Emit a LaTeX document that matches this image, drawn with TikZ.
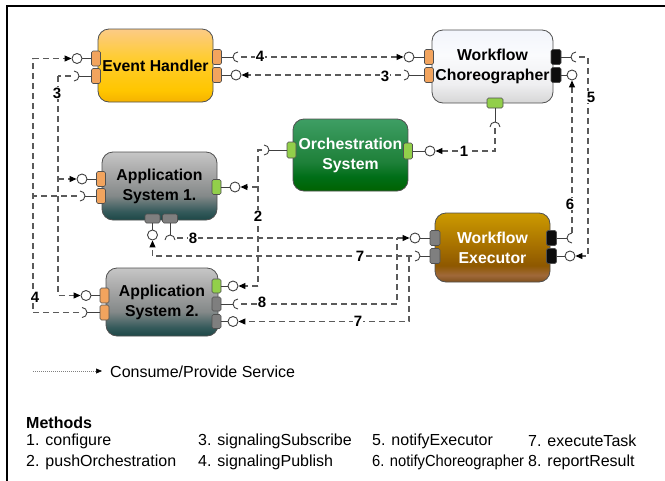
\documentclass[tikz,border=0pt]{standalone}
\usepackage{fontspec}
\setmainfont{Liberation Sans}
\usetikzlibrary{arrows.meta}
\definecolor{bordc}{HTML}{505050}
\definecolor{stubc}{HTML}{404040}
\definecolor{connc}{HTML}{5A5A5A}
\definecolor{porange}{HTML}{F2A45E}
\definecolor{pgreen}{HTML}{92CF4A}
\definecolor{pgray}{HTML}{7F7F7F}
\definecolor{pblack}{HTML}{0D0D0D}
% Event Handler
\definecolor{ehA}{HTML}{F5B200}\definecolor{ehB}{HTML}{FFC600}\definecolor{ehC}{HTML}{FFCC30}\definecolor{ehD}{HTML}{FCCB86}
\pgfdeclareverticalshading{ehgrad}{100bp}{color(0bp)=(ehA); color(25bp)=(ehA); color(33bp)=(ehB); color(55bp)=(ehC); color(75bp)=(ehD); color(100bp)=(ehD)}
% Workflow Choreographer
\definecolor{wcA}{HTML}{D6D6D6}\definecolor{wcB}{HTML}{EFEFF1}\definecolor{wcC}{HTML}{FAFBFD}\definecolor{wcD}{HTML}{F2F5FC}
\pgfdeclareverticalshading{wcgrad}{100bp}{color(0bp)=(wcA); color(25bp)=(wcA); color(38bp)=(wcB); color(58bp)=(wcC); color(75bp)=(wcD); color(100bp)=(wcD)}
% Orchestration
\definecolor{osA}{HTML}{006200}\definecolor{osB}{HTML}{006E18}\definecolor{osC}{HTML}{1E8039}\definecolor{osD}{HTML}{3E9E64}
\pgfdeclareverticalshading{osgrad}{100bp}{color(0bp)=(osA); color(25bp)=(osA); color(35bp)=(osB); color(45bp)=(osC); color(75bp)=(osD); color(100bp)=(osD)}
% Application systems
\definecolor{asA}{HTML}{1D4847}\definecolor{asB}{HTML}{33595A}\definecolor{asC}{HTML}{848989}\definecolor{asD}{HTML}{A4A4A4}\definecolor{asE}{HTML}{C6C6C6}
\pgfdeclareverticalshading{asgrad}{100bp}{color(0bp)=(asA); color(25bp)=(asA); color(31bp)=(asB); color(43bp)=(asC); color(58bp)=(asD); color(75bp)=(asE); color(100bp)=(asE)}
% Workflow Executor
\definecolor{weA}{HTML}{80501C}\definecolor{weB}{HTML}{A0693A}\definecolor{weC}{HTML}{8E5800}\definecolor{weD}{HTML}{A87200}\definecolor{weE}{HTML}{CC9A00}
\pgfdeclareverticalshading{wegrad}{100bp}{color(0bp)=(weA); color(25bp)=(weA); color(30bp)=(weB); color(37bp)=(weC); color(52bp)=(weD); color(75bp)=(weE); color(100bp)=(weE)}

\tikzset{
  mybox/.style={draw=bordc, line width=0.8pt, rounded corners=11pt, shade, align=center, inner sep=0pt,
    font=\bfseries\fontsize{15.8}{20}\selectfont},
  portv/.style={draw=bordc, line width=0.6pt, rounded corners=1.5pt, minimum width=9pt, minimum height=15pt, inner sep=0pt},
  porth/.style={draw=bordc, line width=0.6pt, rounded corners=1.5pt, minimum width=15pt, minimum height=9pt, inner sep=0pt},
  lolly/.style={circle, draw=stubc, fill=white, line width=0.9pt, minimum size=10pt, inner sep=0pt},
  stubln/.style={draw=stubc, line width=0.9pt},
  conn/.style={draw=connc, line width=1.1pt, dash pattern=on 6pt off 4pt},
  arr/.style={-{Triangle[length=7pt,width=6pt,color=black]}},
  lab/.style={fill=white, inner sep=1pt, font=\bfseries\fontsize{15}{18}\selectfont},
  legtxt/.style={anchor=west, inner sep=0pt, font=\fontsize{16}{19}\selectfont},
}
\newcommand\mysockL[1]{\draw[stubln] ([shift={(0,-5)}]#1) arc[start angle=-90,end angle=90,radius=5];}
\newcommand\mysockR[1]{\draw[stubln] ([shift={(0,-5)}]#1) arc[start angle=270,end angle=90,radius=5];}
\newcommand\mysockD[1]{\draw[stubln] ([shift={(-5,0)}]#1) arc[start angle=180,end angle=360,radius=5];}

\begin{document}
\begin{tikzpicture}[x=1pt,y=-1pt]
\useasboundingbox (0,0) rectangle (665,480);
\coordinate (fr0) at (7,481);
\coordinate (fr1) at (7,6);
\coordinate (fr2) at (666,6);
\draw[line width=1.3pt] (fr0) -- (fr1) -- (fr2);

% ---------- boxes ----------
\node[mybox, shading=ehgrad, minimum width=115pt, minimum height=73pt] (eh) at (155.5,65.5) {Event Handler};
\node[mybox, shading=wcgrad, minimum width=121pt, minimum height=73pt] (wc) at (492.5,66.5) {Workflow\\Choreographer};
\node[mybox, shading=osgrad, minimum width=115pt, minimum height=72pt, text=white] (os) at (350.5,155) {Orchestration\\System};
\node[mybox, shading=asgrad, minimum width=115pt, minimum height=68pt] (as1) at (159.5,186) {Application\\System 1.};
\node[mybox, shading=wegrad, minimum width=115pt, minimum height=69pt, text=white] (we) at (492.5,247.5) {Workflow\\Executor};
\node[mybox, shading=asgrad, minimum width=112pt, minimum height=68pt] (as2) at (162,302) {Application\\System 2.};

% ---------- ports ----------
\node[portv, fill=porange] (ehL1) at (96,58.5) {};
\node[portv, fill=porange] (ehL2) at (96,76) {};
\node[portv, fill=porange] (ehR1) at (217,57) {};
\node[portv, fill=porange] (ehR2) at (217,75) {};
\node[portv, fill=porange] (wcL1) at (429,57) {};
\node[portv, fill=porange] (wcL2) at (429,75) {};
\node[portv, fill=pblack, minimum width=10pt] (wcR1) at (556,57) {};
\node[portv, fill=pblack, minimum width=10pt] (wcR2) at (556,75) {};
\node[porth, fill=pgreen, minimum width=16pt, minimum height=10pt] (wcB) at (495,103) {};
\node[portv, fill=pgreen, minimum height=16pt] (osL) at (291.5,150) {};
\node[portv, fill=pgreen, minimum height=16pt] (osR) at (408,151) {};
\node[portv, fill=porange] (a1L1) at (101,179) {};
\node[portv, fill=porange] (a1L2) at (101,196) {};
\node[portv, fill=pgreen] (a1R) at (216.5,187) {};
\node[porth, fill=pgray] (a1B1) at (152.5,218.5) {};
\node[porth, fill=pgray] (a1B2) at (170,218.5) {};
\node[portv, fill=pgray, minimum width=10pt] (weL1) at (435,238) {};
\node[portv, fill=pgray, minimum width=10pt] (weL2) at (435,256) {};
\node[portv, fill=pblack, minimum width=10pt] (weR1) at (551.5,238) {};
\node[portv, fill=pblack, minimum width=10pt] (weR2) at (551.5,256) {};
\node[portv, fill=porange] (a2L1) at (104.5,295.5) {};
\node[portv, fill=porange] (a2L2) at (104.5,312.5) {};
\node[portv, fill=pgreen, minimum height=14pt] (a2R1) at (216.5,286) {};
\node[portv, fill=pgray, minimum height=14pt] (a2R2) at (216.5,304) {};
\node[portv, fill=pgray, minimum height=14pt] (a2R3) at (216.5,321.5) {};

% ---------- provided interfaces (lollipops) ----------
\node[lolly] (cEHL) at (77,58.5) {};   \draw[stubln] (ehL1.west) -- (cEHL);
\node[lolly] (cEHR) at (236,75) {};    \draw[stubln] (ehR2.east) -- (cEHR);
\node[lolly] (cWCL) at (409,57) {};    \draw[stubln] (wcL1.west) -- (cWCL);
\node[lolly] (cWCR) at (572,75) {};    \draw[stubln] (wcR2.east) -- (cWCR);
\node[lolly] (cOSR) at (430,151) {};   \draw[stubln] (osR.east) -- (cOSR);
\node[lolly] (cA1L) at (82,179) {};    \draw[stubln] (a1L1.west) -- (cA1L);
\node[lolly] (cA1R) at (235,187) {};   \draw[stubln] (a1R.east) -- (cA1R);
\node[lolly] (cA1B) at (152.5,235) {}; \draw[stubln] (a1B1.south) -- (cA1B);
\node[lolly] (cWEL) at (415,238) {};   \draw[stubln] (weL1.west) -- (cWEL);
\node[lolly] (cWER) at (570,256) {};   \draw[stubln] (weR2.east) -- (cWER);
\node[lolly] (cA2L) at (86,295.5) {};  \draw[stubln] (a2L1.west) -- (cA2L);
\node[lolly] (cA2R1) at (233,286) {};  \draw[stubln] (a2R1.east) -- (cA2R1);
\node[lolly] (cA2R3) at (233,321.5) {};\draw[stubln] (a2R3.east) -- (cA2R3);

% ---------- required interfaces (sockets) ----------
\coordinate (sEHL) at (74,76);    \coordinate (bEHL) at (79,76);
\coordinate (sEHR) at (238,57);   \coordinate (bEHR) at (233,57);
\coordinate (sWCL) at (404,75);   \coordinate (bWCL) at (409,75);
\coordinate (sWCR) at (576,57);   \coordinate (bWCR) at (571,57);
\coordinate (sWCB) at (495,127);  \coordinate (bWCB) at (495,122);
\coordinate (sOSL) at (264,150);  \coordinate (bOSL) at (269,150);
\coordinate (sA1L) at (80,196);   \coordinate (bA1L) at (85,196);
\coordinate (sA1B) at (170,240);  \coordinate (bA1B) at (170,235);
\coordinate (sWEL) at (415,256);  \coordinate (bWEL) at (420,256);
\coordinate (sWER) at (572,238);  \coordinate (bWER) at (567,238);
\coordinate (sA2L) at (82,312.5); \coordinate (bA2L) at (87,312.5);
\coordinate (sA2R) at (238,304);  \coordinate (bA2R) at (233,304);
\draw[stubln] (ehL2.west) -- (bEHL);  \mysockL{sEHL}
\draw[stubln] (ehR1.east) -- (bEHR);  \mysockR{sEHR}
\draw[stubln] (wcL2.west) -- (bWCL);  \mysockL{sWCL}
\draw[stubln] (wcR1.east) -- (bWCR);  \mysockR{sWCR}
\draw[stubln] (wcB.south) -- (bWCB);  \mysockD{sWCB}
\draw[stubln] (osL.west) -- (bOSL);   \mysockL{sOSL}
\draw[stubln] (a1L2.west) -- (bA1L);  \mysockL{sA1L}
\draw[stubln] (a1B2.south) -- (bA1B); \mysockD{sA1B}
\draw[stubln] (weL2.west) -- (bWEL);  \mysockL{sWEL}
\draw[stubln] (weR1.east) -- (bWER);  \mysockR{sWER}
\draw[stubln] (a2L2.west) -- (bA2L);  \mysockL{sA2L}
\draw[stubln] (a2R2.east) -- (bA2R);  \mysockR{sA2R}

% ---------- connector points ----------
\coordinate (d1) at (495,128);
\coordinate (d2) at (262,150);  \coordinate (j2a) at (258,150);
\coordinate (j2b) at (258,187); \coordinate (j2c) at (258,286);
\coordinate (d3) at (401,75);
\coordinate (d4) at (241,57);
\coordinate (d3L) at (71,76);   \coordinate (j3a) at (58,76); \coordinate (j3b) at (58,179);
\coordinate (d4La) at (77,196); \coordinate (j4a) at (33,196);
\coordinate (d4Lb) at (79,312.5); \coordinate (j4b) at (33,312.5); \coordinate (j4c) at (33,58.5);
\coordinate (d5) at (579,57);   \coordinate (j5a) at (588,57); \coordinate (j5b) at (588,256);
\coordinate (d6) at (572,233);
\coordinate (d7) at (412,256);  \coordinate (j7) at (409,256);
\coordinate (d8) at (177,238);
\coordinate (d8b) at (241,304); \coordinate (j8) at (397,238);

% ---------- connectors ----------
\draw[conn,arr] (d1) |- (cOSR);
\draw[conn] (d2) -- (j2a) -- (j2c);
\draw[conn,arr] (j2b) -- (cA1R);
\draw[conn,arr] (j2c) -- (cA2R1);
\draw[conn,arr] (d3) -- (cEHR);
\draw[conn,arr] (d4) -- (cWCL);
\draw[conn] (d3L) -- (j3a);
\draw[conn,arr] (j3a) |- (cA2L);
\draw[conn,arr] (j3b) -- (cA1L);
\draw[conn] (d4La) -- (j4a);
\draw[conn,arr] (d4Lb) -- (j4b) -- (j4c) -- (cEHL);
\draw[conn,arr] (d5) -- (j5a) -- (j5b) -- (cWER);
\draw[conn,arr] (d6) -- (cWCR);
\draw[conn,arr] (d7) -| (cA1B);
\draw[conn,arr] (j7) |- (cA2R3);
\draw[conn,arr] (d8) -- (cWEL);
\draw[conn] (d8b) -| (j8);

% ---------- labels ----------
\node[lab] (n1) at (464,151) {1};
\node[lab] (n2) at (258,216) {2};
\node[lab] (n3a) at (385,76) {3};
\node[lab] (n4a) at (260,56) {4};
\node[lab] (n3b) at (57,93) {3};
\node[lab] (n4b) at (35,297) {4};
\node[lab] (n5) at (591,97) {5};
\node[lab] (n6) at (570,204) {6};
\node[lab] (n7a) at (360,256) {7};
\node[lab] (n7b) at (358,321.5) {7};
\node[lab] (n8a) at (193,238) {8};
\node[lab] (n8b) at (262,302) {8};

% ---------- legend ----------
\coordinate (lg0) at (33,371);
\coordinate (lg1) at (102,371);
\draw[draw=gray, line width=0.5pt, dash pattern=on 1pt off 1pt, -{Triangle[length=6pt,width=5pt,color=black]}] (lg0) -- (lg1);
\node[legtxt] (legt) at (110,372) {Consume/Provide Service};
\node[legtxt, font=\bfseries\fontsize{16}{19}\selectfont] (meth) at (26,423) {Methods};
\node[legtxt] (m1) at (26,441) {1. configure};
\node[legtxt] (m2) at (26,462) {2. pushOrchestration};
\node[legtxt] (m3) at (198,441) {3. signalingSubscribe};
\node[legtxt] (m4) at (198,462) {4. signalingPublish};
\node[legtxt] (m5) at (372,441) {5. notifyExecutor};
\node[legtxt] (m6) at (372,462) {\addfontfeature{FakeStretch=0.92}6. notifyChoreographer};
\node[legtxt] (m7) at (528,441) {7. executeTask};
\node[legtxt] (m8) at (528,462) {8. reportResult};
\end{tikzpicture}
\end{document}
